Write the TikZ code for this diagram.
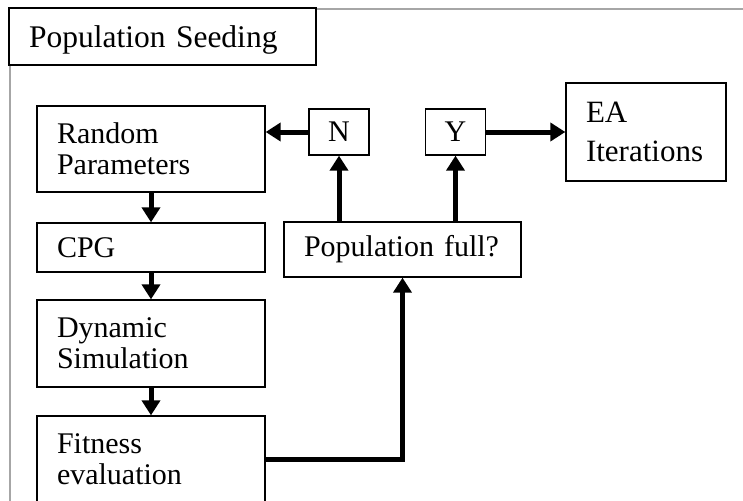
\documentclass[tikz,border=0pt]{standalone}
\usepackage{fontspec}
\setmainfont{Liberation Serif}
\usetikzlibrary{arrows.meta}

\begin{document}
\begin{tikzpicture}[x=1pt,y=-1pt,
  box/.style={draw, rectangle, line width=1.3pt, fill=white, inner xsep=20pt, inner ysep=0pt,
    font=\fontsize{30}{31}\selectfont, align=left},
  tag/.style={draw, rectangle, line width=1.3pt, inner sep=0pt, minimum width=60pt,
    minimum height=46pt, font=\fontsize{30}{31}\selectfont},
  flow/.style={line width=5pt, -{Triangle[length=15pt,width=18pt]}}]
\useasboundingbox (0,0) rectangle (743,500);
\clip (0,0) rectangle (743,500);

% outer frame
\draw[black!35, line width=2pt] (10,520) -- (10,9) -- (760,9);

\node[box, text width=267pt, minimum height=57pt, font=\fontsize{31.5}{32}\selectfont,
  text depth=0pt] (title) at (162.5,36.5) {Population Seeding};

\node[box, text width=188pt, minimum height=86pt] (rp) at (151,149) {Random\\Parameters};
\node[box, text width=188pt, minimum height=49pt] (cpg) at (151,247.5) {CPG};
\node[box, text width=188pt, minimum height=87pt] (dyn) at (151,343.5) {Dynamic\\Simulation};
\node[box, text width=188pt, minimum height=86pt] (fit) at (151,459) {Fitness\\evaluation};
\node[box, text width=197pt, minimum height=55pt] (pf) at (402.5,249.5) {Population full?};
\node[tag] (n) at (339,132) {N};
\node[tag] (y) at (455.5,132) {Y};
\node[box, text width=120pt, minimum height=98pt, font=\fontsize{31}{32}\selectfont]
  (ea) at (646,132) {EA\\[7pt]Iterations};

\draw[flow] (rp) -- (cpg);
\draw[flow] (cpg) -- (dyn);
\draw[flow] (dyn) -- (fit);
\draw[flow] (fit.east) -| (pf.south);
\draw[flow] (pf.north -| n.south) -- (n.south);
\draw[flow] (pf.north -| y.south) -- (y.south);
\draw[flow] (n.west) -- (n.west -| rp.east);
\draw[flow] (y.east) -- (ea.west);
\end{tikzpicture}
\end{document}
